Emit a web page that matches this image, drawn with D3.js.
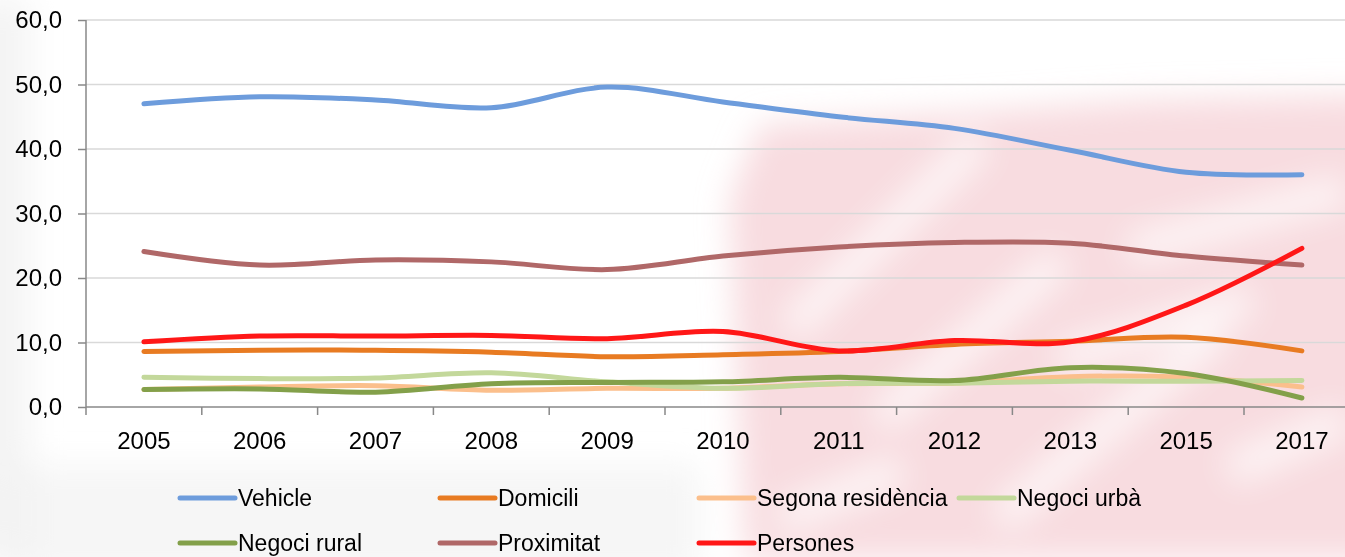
<!DOCTYPE html>
<html>
<head>
<meta charset="utf-8">
<script src="https://cdn.jsdelivr.net/npm/d3@7"></script>
<style>
  html, body { margin: 0; padding: 0; background: #fff; }
  svg { display: block; font-family: "Liberation Sans", Arial, sans-serif; }
</style>
</head>
<body>
<div id="chart"></div>
<script>
// years on the x axis (note: 2014 and 2016 are missing)
var years = ["2005","2006","2007","2008","2009","2010","2011","2012","2013","2015","2017"];

var vehicle     = [47.0, 48.1, 47.6, 46.4, 49.6, 47.3, 45.0, 43.2, 39.8, 36.4, 36.0];
var domicili    = [8.6, 8.8, 8.8, 8.5, 7.8, 8.1, 8.6, 9.7, 10.2, 10.8, 8.7];
var segona      = [2.7, 3.1, 3.3, 2.6, 2.9, 2.9, 3.6, 3.7, 4.7, 4.6, 3.1];
var negociUrba  = [4.6, 4.4, 4.5, 5.3, 3.9, 2.9, 3.6, 3.7, 4.0, 4.0, 4.1];
var negociRural = [2.7, 2.8, 2.3, 3.6, 3.8, 3.9, 4.6, 4.1, 6.1, 5.2, 1.4];
var proximitat  = [24.1, 22.0, 22.8, 22.5, 21.3, 23.4, 24.8, 25.5, 25.4, 23.4, 22.0];
var persones    = [10.1, 11.0, 11.0, 11.1, 10.6, 11.7, 8.7, 10.3, 10.1, 15.8, 24.6];

var seriesNames  = ["Vehicle", "Domicili", "Segona residència", "Negoci urbà", "Negoci rural", "Proximitat", "Persones"];
var seriesColors = ["#6d9cdc", "#e87b22", "#fbbf8c", "#c3d89b", "#83a04a", "#b06868", "#ff1717"];
var seriesValues = [vehicle, domicili, segona, negociUrba, negociRural, proximitat, persones];

var yTicks = [0, 10, 20, 30, 40, 50, 60];

var width = 1345, height = 557;

var svg = d3.select("#chart")
  .append("svg")
  .attr("width", width)
  .attr("height", height);

// faded watermark in the background
var defs = svg.append("defs");
defs.append("filter").attr("id", "blur")
  .attr("filterUnits", "userSpaceOnUse")
  .attr("x", -100).attr("y", -100).attr("width", 1600).attr("height", 800)
  .append("feGaussianBlur").attr("stdDeviation", 16);

var wm = svg.append("g").attr("filter", "url(#blur)");
wm.append("path")
  .attr("d", "M745,560 L730,200 L760,125 L1000,110 L1150,100 L1380,95 L1380,560 Z")
  .attr("fill", "#f6d3d8").attr("opacity", 0.8);
// lighter streaks over the pink
[[790, 330, 980, 140], [880, 420, 1060, 260], [1000, 520, 1220, 330], [1130, 250, 1345, 190],
 [1060, 360, 1250, 300], [780, 520, 900, 470], [1230, 470, 1345, 420]]
  .forEach(function(s) {
    wm.append("line").attr("x1", s[0]).attr("y1", s[1]).attr("x2", s[2]).attr("y2", s[3])
      .attr("stroke", "#fff").attr("stroke-width", 30).attr("opacity", 0.7);
  });
// grey haze on the left side
wm.append("rect").attr("x", -40).attr("y", 0).attr("width", 70).attr("height", 557)
  .attr("fill", "#ececec").attr("opacity", 0.6);
wm.append("rect").attr("x", 0).attr("y", 465).attr("width", 700).attr("height", 110)
  .attr("fill", "#f0f0f0").attr("opacity", 0.6);

var plotLeft = 86, step = 115.8;

var x = d3.scaleBand()
  .domain(years)
  .range([plotLeft, plotLeft + step * years.length])
  .paddingInner(0).paddingOuter(0);

var y = d3.scaleLinear()
  .domain([0, 60])
  .range([407, 20]);

var cx = function(d) { return x(d) + x.bandwidth() / 2; };

// gridlines
svg.append("g")
  .selectAll("line")
  .data(yTicks.filter(function(d) { return d > 0; }))
  .enter()
  .append("line")
  .attr("x1", plotLeft).attr("x2", width)
  .attr("y1", function(d) { return y(d); })
  .attr("y2", function(d) { return y(d); })
  .attr("stroke", "#d9d9d9")
  .attr("stroke-width", 1.5);

// y axis
var yAxis = svg.append("g")
  .attr("transform", "translate(" + plotLeft + ",0)")
  .call(d3.axisLeft(y)
    .tickValues(yTicks)
    .tickSize(8)
    .tickPadding(16)
    .tickFormat(function(d) { return d3.format(".1f")(d).replace(".", ","); }));
yAxis.select(".domain").attr("stroke", "#888").attr("stroke-width", 1.5).attr("d", "M0," + y(60) + "V" + y(0));
yAxis.selectAll(".tick line").attr("stroke", "#888").attr("stroke-width", 1.5);
yAxis.selectAll(".tick text").attr("font-size", 24).attr("fill", "#000");

// x axis: labels centered, ticks between the categories
var xAxis = svg.append("g")
  .attr("transform", "translate(0," + y(0) + ")")
  .call(d3.axisBottom(x).tickSize(0).tickPadding(25));
xAxis.select(".domain").remove();
xAxis.selectAll(".tick text").attr("font-size", 24).attr("fill", "#000");

svg.append("line")
  .attr("x1", plotLeft).attr("x2", width)
  .attr("y1", y(0)).attr("y2", y(0))
  .attr("stroke", "#888").attr("stroke-width", 1.5);

svg.append("g")
  .selectAll("line")
  .data(years)
  .enter()
  .append("line")
  .attr("x1", function(d) { return x(d); })
  .attr("x2", function(d) { return x(d); })
  .attr("y1", y(0)).attr("y2", y(0) + 8)
  .attr("stroke", "#888").attr("stroke-width", 1.5);

// smoothed series lines
var line = d3.line()
  .x(function(d) { return cx(d.year); })
  .y(function(d) { return y(d.value); })
  .curve(d3.curveCatmullRom.alpha(0.5));

seriesValues.forEach(function(vals, i) {
  var pts = years.map(function(yr, j) { return { year: yr, value: vals[j] }; });
  svg.append("path")
    .datum(pts)
    .attr("d", line)
    .attr("fill", "none")
    .attr("stroke", seriesColors[i])
    .attr("stroke-width", 5)
    .attr("stroke-linecap", "round")
    .attr("stroke-linejoin", "round");
});

// legend, 4 columns
var legendX = [180, 440, 699, 959];
var legendY = [498, 543];

var legend = svg.append("g")
  .selectAll("g")
  .data(seriesNames)
  .enter()
  .append("g")
  .attr("transform", function(d, i) {
    return "translate(" + legendX[i % 4] + "," + legendY[Math.floor(i / 4)] + ")";
  });

legend.append("line")
  .attr("x1", 0).attr("x2", 55)
  .attr("stroke", function(d, i) { return seriesColors[i]; })
  .attr("stroke-width", 5)
  .attr("stroke-linecap", "round");

legend.append("text")
  .attr("x", 58)
  .attr("dy", "0.35em")
  .attr("font-size", 23)
  .attr("fill", "#000")
  .text(function(d) { return d; });
</script>
</body>
</html>
